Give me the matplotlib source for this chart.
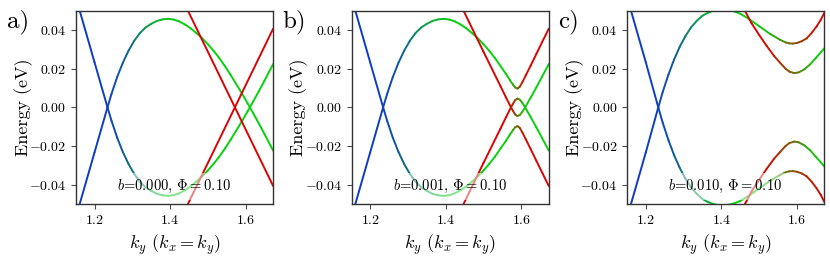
import numpy as np
import matplotlib.pyplot as plt
from matplotlib.collections import LineCollection
from matplotlib.ticker import FuncFormatter

plt.rcParams['font.family'] = 'cmr10'
plt.rcParams['mathtext.fontset'] = 'cm'
plt.rcParams['axes.formatter.use_mathtext'] = True

# band colours: character -1 = blue, 0 = green, +1 = red
BLUE = np.array([0.06, 0.22, 0.78])
GREEN = np.array([0.04, 0.82, 0.06])
RED = np.array([0.85, 0.02, 0.02])

phi = 0.10
b_vals = [0.000, 0.001, 0.010]
letters = ["a)", "b)", "c)"]

# panel a (b = 0.000): upper "sine" band and descending red band (mirrored in E)
a_band_k = [1.1585, 1.20, 1.2343, 1.245, 1.26, 1.275, 1.29, 1.305, 1.32, 1.335, 1.35, 1.365,
            1.38, 1.395, 1.41, 1.425, 1.44, 1.455, 1.47, 1.485, 1.50, 1.515, 1.53, 1.545,
            1.56, 1.575, 1.59, 1.605, 1.62, 1.635, 1.65, 1.673]
a_band_E = [-0.0515, -0.0233, 0.0, 0.0070, 0.0157, 0.0231, 0.0293, 0.0344, 0.0384, 0.0413, 0.0432, 0.0447,
            0.0455, 0.0458, 0.0454, 0.0444, 0.0428, 0.0408, 0.0384, 0.0357, 0.0327, 0.0293, 0.0256, 0.0214,
            0.0169, 0.0121, 0.0073, 0.0022, -0.0030, -0.0083, -0.0138, -0.0224]
a_band_c = [-1, -0.98, -0.93, -0.9, -0.85, -0.77, -0.68, -0.58, -0.48, -0.38, -0.3, -0.22,
            -0.15, -0.1, -0.06, -0.03, -0.01, 0, 0, 0, 0, 0, 0, 0,
            0, 0, 0, 0, 0, 0, 0, 0]
a_red_k = [1.4473, 1.673]
a_red_E = [0.05, -0.0407]
a_red_c = [1, 1]

# panel b (b = 0.001): small anticrossing near k = 1.59
b_up_k = [1.1585, 1.20, 1.2343, 1.245, 1.26, 1.275, 1.29, 1.305, 1.32, 1.335, 1.35, 1.365,
          1.38, 1.395, 1.41, 1.425, 1.44, 1.455, 1.47, 1.485, 1.50, 1.515, 1.53, 1.545,
          1.56, 1.57, 1.578, 1.584, 1.59, 1.596, 1.603, 1.612, 1.625, 1.64, 1.655, 1.673]
b_up_E = [-0.0515, -0.0233, 0.0, 0.0070, 0.0157, 0.0231, 0.0293, 0.0344, 0.0384, 0.0413, 0.0432, 0.0447,
          0.0455, 0.0458, 0.0454, 0.0444, 0.0428, 0.0408, 0.0384, 0.0357, 0.0327, 0.0293, 0.0256, 0.0214,
          0.0172, 0.0141, 0.0118, 0.0103, 0.0097, 0.0106, 0.0130, 0.0165, 0.0216, 0.0276, 0.0336, 0.0407]
b_up_c = [-1, -0.98, -0.93, -0.9, -0.85, -0.77, -0.68, -0.58, -0.48, -0.38, -0.3, -0.22,
          -0.15, -0.1, -0.06, -0.03, -0.01, 0, 0, 0, 0, 0, 0, 0,
          0.01, 0.05, 0.15, 0.3, 0.5, 0.7, 0.85, 0.95, 0.99, 1, 1, 1]
b_mid_k = [1.4473, 1.50, 1.545, 1.56, 1.57, 1.578, 1.584, 1.59, 1.596, 1.603, 1.612, 1.625,
           1.64, 1.655, 1.673]
b_mid_E = [-0.05, -0.0288, -0.0110, -0.0050, -0.0011, 0.0018, 0.0037, 0.0045, 0.0040, 0.0023, -0.0006,
           -0.0050, -0.0103, -0.0158, -0.0224]
b_mid_c = [1, 1, 1, 0.99, 0.95, 0.85, 0.7, 0.5, 0.3, 0.15, 0.05, 0.01, 0, 0, 0]

# panel c (b = 0.010): large gap
c_up_k = [1.1585, 1.20, 1.233, 1.245, 1.26, 1.275, 1.29, 1.305, 1.32, 1.335, 1.35, 1.365,
          1.38, 1.39, 1.405, 1.42, 1.435, 1.45, 1.471, 1.50, 1.529, 1.555, 1.57, 1.58,
          1.59, 1.60, 1.613, 1.626, 1.64, 1.652, 1.663, 1.673]
c_up_E = [-0.0515, -0.0233, 0.0, 0.0081, 0.0170, 0.0248, 0.0314, 0.0369, 0.0414, 0.0448, 0.0474, 0.0490,
          0.0501, 0.0505, 0.0507, 0.0504, 0.0496, 0.0484, 0.0460, 0.0420, 0.0380, 0.0350, 0.0336, 0.0331,
          0.0330, 0.0333, 0.0342, 0.0357, 0.0387, 0.0418, 0.0452, 0.0490]
c_up_c = [-1, -0.98, -0.93, -0.9, -0.85, -0.77, -0.68, -0.58, -0.48, -0.38, -0.3, -0.22,
          -0.15, -0.12, -0.08, -0.05, -0.02, 0, 0, 0.02, 0.1, 0.28, 0.42, 0.5,
          0.58, 0.65, 0.74, 0.8, 0.87, 0.92, 0.95, 0.97]
c_mid_k = [1.4624, 1.48, 1.50, 1.52, 1.54, 1.555, 1.57, 1.58, 1.593, 1.605, 1.62, 1.635, 1.65, 1.673]
c_mid_E = [0.05, 0.0435, 0.0375, 0.0318, 0.0265, 0.0232, 0.0200, 0.0185, 0.0177, 0.0181, 0.0197,
           0.0222, 0.0255, 0.0306]
c_mid_c = [1, 1, 0.98, 0.95, 0.88, 0.8, 0.68, 0.6, 0.5, 0.4, 0.25, 0.12, 0.05, 0.0]

bands = [
    [(a_band_k, a_band_E, a_band_c), (a_red_k, a_red_E, a_red_c)],
    [(b_up_k, b_up_E, b_up_c), (b_mid_k, b_mid_E, b_mid_c)],
    [(c_up_k, c_up_E, c_up_c), (c_mid_k, c_mid_E, c_mid_c)],
]


def mix(c):
    c = np.asarray(c, dtype=float)
    wb = np.clip(-c, 0, 1)[:, None]
    wr = np.clip(c, 0, 1)[:, None]
    return wb * BLUE + wr * RED + (1 - wb - wr) * GREEN


def draw_band(ax, k, E, c):
    pts = np.column_stack([k, E])
    segs = np.stack([pts[:-1], pts[1:]], axis=1)
    cols = mix(c)
    cols = np.clip(0.5 * (cols[:-1] + cols[1:]), 0, 1)
    lc = LineCollection(segs, colors=cols, linewidths=1.4, capstyle='round', joinstyle='round')
    ax.add_collection(lc)


fmt = FuncFormatter(lambda v, p: "$%.2f$" % (v + 0.0))
fmtx = FuncFormatter(lambda v, p: "$%.1f$" % v)

fig = plt.figure(figsize=(8.3, 2.61), dpi=100)
lefts = [0.0916, 0.4237, 0.7558]
for i in range(3):
    ax = fig.add_axes([lefts[i], 0.2184, 0.2375, 0.7406])
    for k, E, c in bands[i]:
        draw_band(ax, k, E, c)
        draw_band(ax, k, [-e for e in E], c)
    ax.set_xlim(1.151, 1.673)
    ax.set_ylim(-0.05, 0.05)
    ax.set_xticks([1.2, 1.4, 1.6])
    ax.set_yticks([-0.04, -0.02, 0.0, 0.02, 0.04])
    ax.xaxis.set_major_formatter(fmtx)
    ax.yaxis.set_major_formatter(fmt)
    ax.tick_params(labelsize=10, length=3.5, width=0.8, color='0.3')
    for s in ax.spines.values():
        s.set_color('0.2')
        s.set_linewidth(1.0)
    ax.set_ylabel("Energy (eV)", fontsize=13)
    ax.yaxis.set_label_coords(-0.22, 0.5)
    ax.set_xlabel(r"$k_y$ ($k_x = k_y$)", fontsize=13)
    ax.xaxis.set_label_coords(0.5, -0.15)
    ax.text(1.411, -0.0409, r"$b$=%.3f, $\Phi = %.2f$" % (b_vals[i], phi), ha='center', va='center',
            fontsize=10.5, zorder=5,
            bbox=dict(facecolor='white', alpha=0.5, edgecolor='none', pad=3.5))
    fig.text(lefts[i] - 0.083, 0.915, letters[i], fontsize=18, ha='left', va='center')

fig.savefig("out.png", dpi=100)
